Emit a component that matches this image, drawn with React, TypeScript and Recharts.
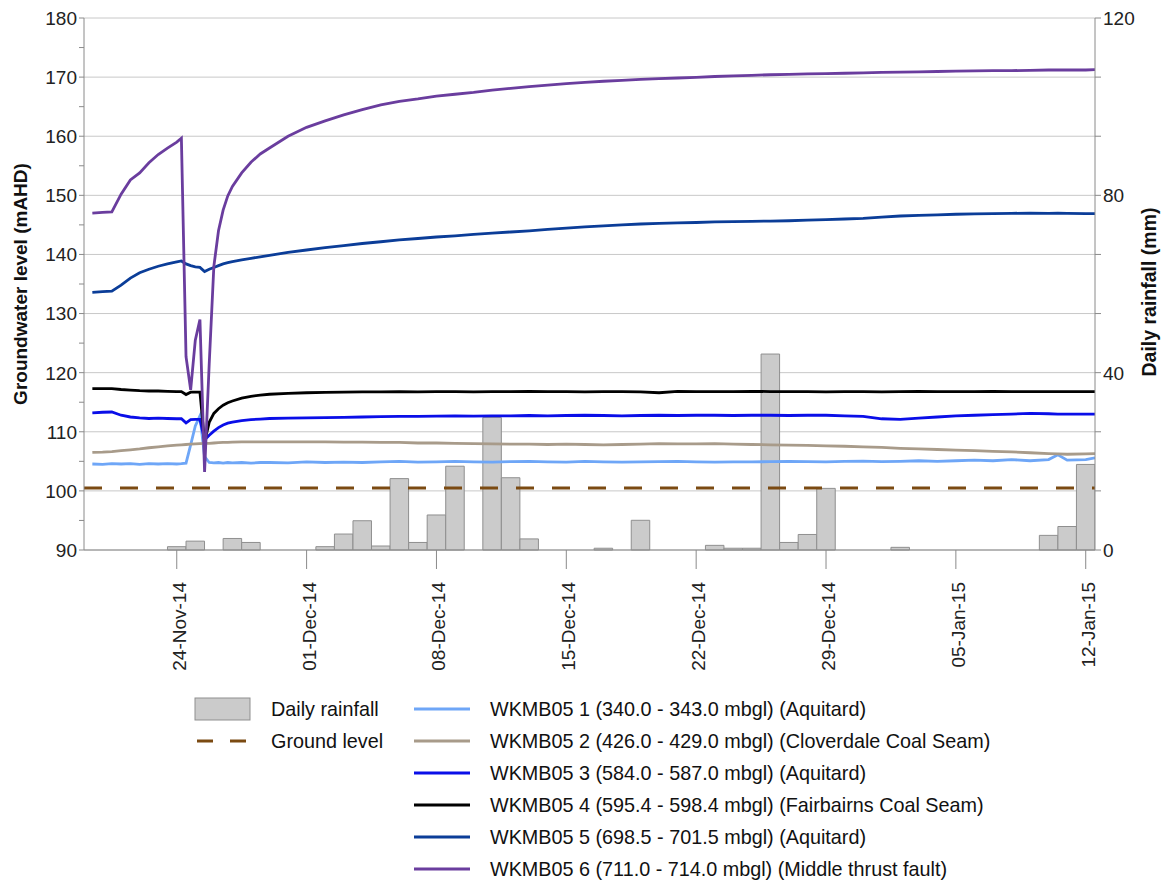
import React from "react";
import { ComposedChart, Bar, Line, XAxis, YAxis, CartesianGrid } from "recharts";

const DAY = 86400000;
const START = Date.UTC(2014, 10, 19); // left edge of the plot: 19-Nov-14
const MONTHS = ["Jan", "Feb", "Mar", "Apr", "May", "Jun", "Jul", "Aug", "Sep", "Oct", "Nov", "Dec"];
const FONT = "'Liberation Sans', Arial, sans-serif";

// axis ticks (x in days since 19-Nov-14)
const dateTicks = [5, 12, 19, 26, 33, 40, 47, 54];
const levelTicks = [90, 95, 100, 105, 110, 115, 120, 125, 130, 135, 140, 145, 150, 155, 160, 165, 170, 175, 180];
const levelGrid = [90, 100, 110, 120, 130, 140, 150, 160, 170, 180];
const rainTicks = [0, 40 / 3, 80 / 3, 40, 160 / 3, 200 / 3, 80, 280 / 3, 320 / 3, 120];

// daily rainfall (mm)
const rainDates = [
  "2014-11-24", "2014-11-25", "2014-11-27", "2014-11-28", "2014-12-02", "2014-12-03", "2014-12-04",
  "2014-12-05", "2014-12-06", "2014-12-07", "2014-12-08", "2014-12-09", "2014-12-11", "2014-12-12",
  "2014-12-13", "2014-12-17", "2014-12-19", "2014-12-23", "2014-12-24", "2014-12-25", "2014-12-26",
  "2014-12-27", "2014-12-28", "2014-12-29", "2015-01-02", "2015-01-10", "2015-01-11", "2015-01-12",
];
const rainMm = [
  0.75, 2.0, 2.6, 1.7, 0.75, 3.6, 6.6,
  0.9, 16.1, 1.7, 7.9, 18.9, 29.9, 16.3,
  2.5, 0.4, 6.7, 1.05, 0.4, 0.4, 44.2,
  1.7, 3.5, 13.9, 0.6, 3.3, 5.3, 19.3,
];

// logger readings, time in days since 19-Nov-14
const lineT = [
  0.45, 1, 1.5, 2, 2.5, 3, 3.5, 4, 4.5,
  5, 5.25, 5.5, 5.75, 6, 6.25, 6.5, 6.75, 7, 7.25, 7.5, 7.75, 8,
  8.5, 9, 9.5,
  10, 11, 12, 13, 14, 15, 16, 17, 18, 19,
  20, 21, 22, 23, 24, 25, 26, 27, 28, 29,
  30, 31, 32, 33, 34, 35, 36, 37, 38, 39,
  40, 41, 42, 43, 44, 45, 46, 47, 48, 49,
  50, 51, 52, 52.5, 53, 54, 54.5,
];

const wk1 = [
  104.55, 104.5, 104.6, 104.55, 104.6, 104.5, 104.6, 104.55, 104.6,
  104.55, 104.6, 104.7, 107.8, 111.0, 112.7, 105.8, 104.8, 104.75, 104.8, 104.7, 104.8, 104.75,
  104.8, 104.7, 104.8,
  104.8, 104.75, 104.9, 104.8, 104.85, 104.8, 104.9, 105.0, 104.85, 104.9,
  105.0, 104.9, 104.85, 104.95, 105.0, 104.9, 104.85, 105.0, 104.9, 104.85,
  104.9, 104.95, 105.0, 104.9, 104.85, 104.9, 104.9, 104.95, 105.0, 104.95,
  104.9, 105.0, 105.05, 104.95, 105.0, 105.1, 105.0, 105.1, 105.2, 105.1,
  105.3, 105.1, 105.3, 106.1, 105.2, 105.3, 105.6,
];

const wk2 = [
  106.5, 106.55, 106.65, 106.8, 106.95, 107.1, 107.3, 107.45, 107.6,
  107.75, 107.8, 107.85, 107.9, 107.95, 108.0, 108.05, 108.05, 108.1, 108.15, 108.2, 108.2, 108.25,
  108.3, 108.3, 108.3,
  108.3, 108.3, 108.3, 108.3, 108.25, 108.25, 108.2, 108.2, 108.1, 108.1,
  108.05, 108.0, 107.95, 107.9, 107.9, 107.85, 107.9, 107.85, 107.8, 107.85,
  107.9, 108.0, 107.95, 107.95, 108.0, 107.9, 107.85, 107.8, 107.75, 107.7,
  107.6, 107.55, 107.45, 107.35, 107.2, 107.1, 107.0, 106.9, 106.8, 106.7,
  106.6, 106.45, 106.3, 106.25, 106.2, 106.25, 106.3,
];

const wk3 = [
  113.2, 113.3, 113.35, 112.8, 112.5, 112.35, 112.25, 112.3, 112.25,
  112.2, 112.2, 111.5, 112.05, 112.1, 112.1, 108.6, 109.4, 110.1, 110.7, 111.15, 111.45, 111.65,
  111.9, 112.05, 112.15,
  112.25, 112.3, 112.35, 112.4, 112.45, 112.5, 112.55, 112.6, 112.6, 112.65,
  112.7, 112.65, 112.7, 112.7, 112.75, 112.7, 112.75, 112.8, 112.75, 112.7,
  112.75, 112.8, 112.75, 112.8, 112.8, 112.75, 112.8, 112.8, 112.75, 112.8,
  112.8, 112.7, 112.6, 112.2, 112.1, 112.3, 112.5, 112.7, 112.8, 112.9,
  113.0, 113.1, 113.05, 113.0, 113.0, 113.0, 113.0,
];

const wk4 = [
  117.3, 117.3, 117.3, 117.15, 117.05, 116.95, 116.9, 116.9, 116.85,
  116.8, 116.8, 116.3, 116.7, 116.7, 116.7, 108.3, 111.6, 113.1, 113.9, 114.5, 114.9, 115.2,
  115.7, 116.0, 116.2,
  116.35, 116.5, 116.6, 116.65, 116.7, 116.75, 116.75, 116.8, 116.75, 116.8,
  116.8, 116.75, 116.8, 116.8, 116.85, 116.8, 116.8, 116.75, 116.8, 116.8,
  116.75, 116.6, 116.85, 116.8, 116.8, 116.8, 116.85, 116.8, 116.8, 116.8,
  116.75, 116.8, 116.8, 116.75, 116.8, 116.85, 116.8, 116.8, 116.8, 116.85,
  116.8, 116.8, 116.8, 116.8, 116.8, 116.8, 116.8,
];

const wk5 = [
  133.6, 133.7, 133.8, 134.8, 136.0, 136.9, 137.5, 138.0, 138.4,
  138.75, 138.9, 138.4, 138.1, 137.9, 137.8, 137.1, 137.5, 137.8, 138.1, 138.4, 138.6, 138.8,
  139.1, 139.35, 139.6,
  139.85, 140.35, 140.75, 141.15, 141.5, 141.85, 142.15, 142.45, 142.7, 142.95,
  143.15, 143.4, 143.6, 143.8, 144.0, 144.25, 144.45, 144.65, 144.85, 145.0,
  145.15, 145.25, 145.35, 145.4, 145.5, 145.55, 145.6, 145.65, 145.7, 145.8,
  145.9, 146.0, 146.1, 146.3, 146.5, 146.6, 146.7, 146.8, 146.85, 146.9,
  146.95, 147.0, 146.95, 147.0, 146.95, 146.9, 146.9,
];

const wk6 = [
  147.0, 147.1, 147.2, 150.2, 152.6, 153.8, 155.5, 156.9, 158.0,
  159.0, 159.65, 122.7, 117.1, 125.5, 129.0, 103.2, 121.5, 138.0, 144.0, 147.5, 149.9, 151.5,
  153.8, 155.6, 157.0,
  158.0, 160.0, 161.5, 162.6, 163.6, 164.5, 165.3, 165.9, 166.3, 166.8,
  167.1, 167.4, 167.8, 168.1, 168.4, 168.65, 168.9, 169.1, 169.3, 169.45,
  169.6, 169.75, 169.85, 169.95, 170.1, 170.2, 170.3, 170.4, 170.45, 170.55,
  170.6, 170.65, 170.7, 170.8, 170.85, 170.9, 170.95, 171.0, 171.05, 171.1,
  171.1, 171.15, 171.2, 171.2, 171.2, 171.2, 171.25,
];

const groundLevel = 100.5;
const xDomain = [0, 54.5];

const series = [
  { name: "WKMB05 1 (340.0 - 343.0 mbgl) (Aquitard)", color: "#6ea6f7", values: wk1 },
  { name: "WKMB05 2 (426.0 - 429.0 mbgl) (Cloverdale Coal Seam)", color: "#a89b8a", values: wk2 },
  { name: "WKMB05 3 (584.0 - 587.0 mbgl) (Aquitard)", color: "#0a0ee8", values: wk3 },
  { name: "WKMB05 4 (595.4 - 598.4 mbgl) (Fairbairns Coal Seam)", color: "#000000", values: wk4 },
  { name: "WKMB05 5 (698.5 - 701.5 mbgl) (Aquitard)", color: "#0b3d98", values: wk5 },
  { name: "WKMB05 6 (711.0 - 714.0 mbgl) (Middle thrust fault)", color: "#6a3d9e", values: wk6 },
];

const rainData = rainDates.map((d, i) => ({ t: (Date.parse(d) - START) / DAY, rain: rainMm[i] }));
const groundData = xDomain.map((t) => ({ t, v: groundLevel }));
const toRows = (vals: number[]) => lineT.map((t, i) => ({ t, v: vals[i] }));

const fmtDate = (t: number) => {
  const d = new Date(START + Math.round(t) * DAY);
  const dd = String(d.getUTCDate()).padStart(2, "0");
  const yy = String(d.getUTCFullYear()).slice(2);
  return `${dd}-${MONTHS[d.getUTCMonth()]}-${yy}`;
};

const DateTick = (props: any) => {
  const { x, y, payload } = props;
  return (
    <text
      transform={`translate(${x + 9},${y + 11}) rotate(-90)`}
      textAnchor="end"
      fontFamily={FONT}
      fontSize={19}
      fill="#222"
    >
      {fmtDate(payload.value)}
    </text>
  );
};

const LevelTick = (props: any) => {
  const { x, y, payload } = props;
  if (payload.value % 10 !== 0) return <g />;
  return (
    <text x={x} y={y} dy="0.36em" textAnchor="end" fontFamily={FONT} fontSize={19} fill="#222">
      {payload.value}
    </text>
  );
};

const RainTick = (props: any) => {
  const { x, y, payload } = props;
  const v = Math.round(payload.value * 1000) / 1000;
  if (v % 40 !== 0) return <g />;
  return (
    <text x={x} y={y} dy="0.36em" textAnchor="start" fontFamily={FONT} fontSize={19} fill="#222">
      {v}
    </text>
  );
};

const axisGrey = "#8a8a8a";

function Overlay() {
  const rowY = [709, 741, 773, 805, 837, 869];
  return (
    <svg
      width={1167}
      height={881}
      style={{ position: "absolute", left: 0, top: 0, pointerEvents: "none" }}
      fontFamily={FONT}
    >
      <text transform="translate(27,284) rotate(-90)" textAnchor="middle" fontSize={19} fontWeight="bold" fill="#111">
        Groundwater level (mAHD)
      </text>
      <text transform="translate(1156,292) rotate(-90)" textAnchor="middle" fontSize={19.5} fontWeight="bold" fill="#111">
        Daily rainfall (mm)
      </text>

      <rect x={195} y={698} width={55} height={22} fill="#cbcbcb" stroke="#8f8f8f" />
      <text x={271} y={rowY[0]} dy="0.36em" fontSize={19.8} fill="#111">Daily rainfall</text>
      <line x1={197} x2={246} y1={rowY[1]} y2={rowY[1]} stroke="#7b4a12" strokeWidth={3} strokeDasharray="16 17" />
      <text x={271} y={rowY[1]} dy="0.36em" fontSize={19.8} fill="#111">Ground level</text>

      {series.map((s, i) => (
        <g key={s.name}>
          <line x1={414} x2={470} y1={rowY[i]} y2={rowY[i]} stroke={s.color} strokeWidth={3} />
          <text x={490} y={rowY[i]} dy="0.36em" fontSize={19.8} fill="#111">{s.name}</text>
        </g>
      ))}
    </svg>
  );
}

export default function App() {
  return (
    <div style={{ position: "absolute", left: 0, top: 0, width: 1167, height: 881, background: "#fff" }}>
      <ComposedChart width={1167} height={881} data={rainData} margin={{ top: 18, right: 12, bottom: 201, left: 14 }}>
        <CartesianGrid
          xAxisId="main"
          yAxisId="left"
          vertical={false}
          stroke="#c8c8c8"
          horizontalValues={levelGrid}
        />
        <XAxis
          xAxisId="main"
          dataKey="t"
          type="number"
          domain={xDomain}
          allowDataOverflow
          ticks={dateTicks}
          interval={0}
          tickSize={19}
          height={130}
          axisLine={{ stroke: axisGrey }}
          tickLine={{ stroke: axisGrey }}
          tick={<DateTick />}
        />
        <XAxis xAxisId="lines" dataKey="t" type="number" domain={xDomain} allowDataOverflow height={0} hide />
        <YAxis
          yAxisId="left"
          domain={[90, 180]}
          ticks={levelTicks}
          interval={0}
          width={70}
          tickSize={5}
          axisLine={{ stroke: axisGrey }}
          tickLine={{ stroke: axisGrey }}
          tick={<LevelTick />}
        />
        <YAxis
          yAxisId="right"
          orientation="right"
          domain={[0, 120]}
          ticks={rainTicks}
          interval={0}
          width={60}
          tickSize={6}
          axisLine={{ stroke: axisGrey }}
          tickLine={{ stroke: axisGrey }}
          tick={<RainTick />}
        />
        <Bar
          xAxisId="main"
          yAxisId="right"
          dataKey="rain"
          name="Daily rainfall"
          barSize={18.5}
          fill="#cbcbcb"
          stroke="#8f8f8f"
          strokeWidth={1}
          isAnimationActive={false}
        />
        <Line
          xAxisId="lines"
          yAxisId="left"
          data={groundData}
          dataKey="v"
          name="Ground level"
          stroke="#7b4a12"
          strokeWidth={3}
          strokeDasharray="18 18"
          dot={false}
          isAnimationActive={false}
        />
        {series.map((s) => (
          <Line
            key={s.name}
            xAxisId="lines"
            yAxisId="left"
            data={toRows(s.values)}
            dataKey="v"
            name={s.name}
            stroke={s.color}
            strokeWidth={2.8}
            dot={false}
            activeDot={false}
            isAnimationActive={false}
          />
        ))}
      </ComposedChart>
      <Overlay />
    </div>
  );
}
